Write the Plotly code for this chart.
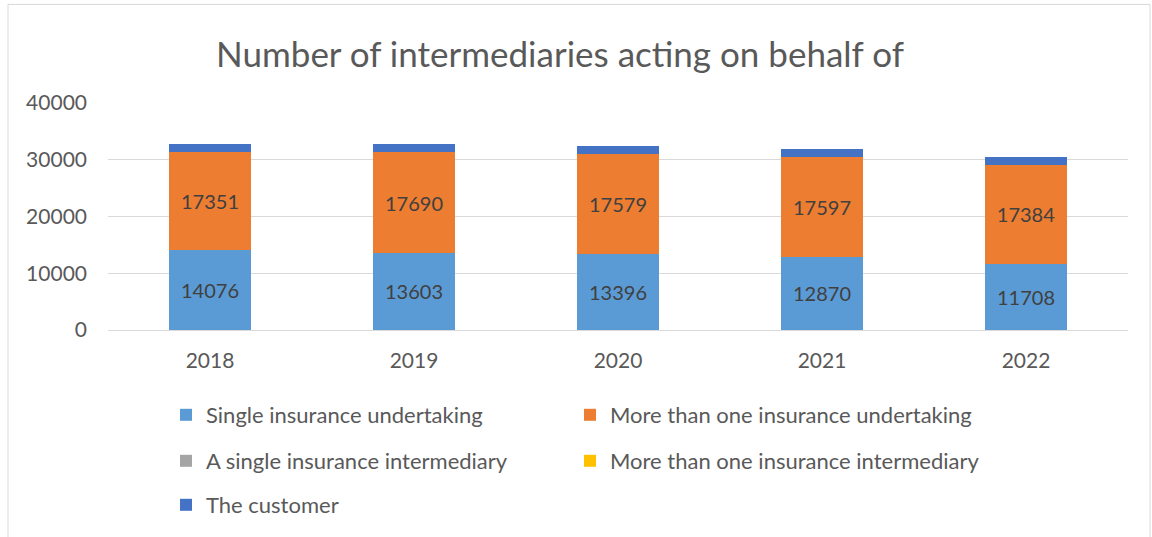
import plotly.graph_objects as go

# ── Data ─────────────────────────────────────────────
years = ["2018", "2019", "2020", "2021", "2022"]
single_undertaking = [14076, 13603, 13396, 12870, 11708]
multi_undertaking = [17351, 17690, 17579, 17597, 17384]
single_intermediary = [0, 0, 0, 0, 0]
multi_intermediary = [0, 0, 0, 0, 0]
customer = [1420, 1400, 1440, 1460, 1440]

# name, values, colour, show labels, legend id, legend pixel (x, y)
series = [
    ("Single insurance undertaking", single_undertaking, "#5B9BD5", True, "legend", (166, 415)),
    ("More than one insurance undertaking", multi_undertaking, "#ED7D31", True, "legend2", (570, 415)),
    ("A single insurance intermediary", single_intermediary, "#A5A5A5", False, "legend3", (166, 461)),
    ("More than one insurance intermediary", multi_intermediary, "#FFC000", False, "legend4", (570, 461)),
    ("The customer", customer, "#4472C4", False, "legend5", (166, 505)),
]

W, H = 1152, 537
L, R, T, B = 108, 24, 103, 206
FONT = "Lato, 'Open Sans', Arial"
TEXT = "#595959"


def px_x(px):
    return (px - L) / (W - L - R)


def px_y(py):
    return (H - B - py) / (H - T - B)


fig = go.Figure()
legends = {}
for name, vals, col, lab, lg, (lx, ly) in series:
    fig.add_trace(go.Bar(
        name=name, x=years, y=vals,
        marker=dict(color=col, line=dict(width=0)),
        text=[str(v) for v in vals] if lab else None,
        texttemplate="%{text}" if lab else None,
        textposition="inside" if lab else "none",
        insidetextanchor="middle",
        textfont=dict(size=20, color="#404040", family=FONT),
        legend=lg, showlegend=True,
    ))
    legends[lg] = dict(orientation="h", xanchor="left", yanchor="middle",
                       x=px_x(lx), y=px_y(ly),
                       font=dict(size=22, color=TEXT, family=FONT),
                       bgcolor="rgba(0,0,0,0)")

fig.update_layout(
    width=W, height=H, showlegend=True,
    barmode="stack", bargap=0.6,
    title=dict(text="Number of intermediaries acting on behalf of",
               x=560 / W, xanchor="center", y=1 - 55 / H, yanchor="middle",
               font=dict(size=35, color=TEXT, family=FONT)),
    xaxis=dict(showgrid=False, showline=False, ticks="", ticklabelstandoff=16,
               tickfont=dict(size=21, color=TEXT, family=FONT)),
    yaxis=dict(range=[0, 40000], dtick=10000, showgrid=True, gridcolor="#D9D9D9",
               gridwidth=1, zeroline=True, zerolinecolor="#D9D9D9", zerolinewidth=1,
               ticks="", ticklabelstandoff=20, tickformat="d",
               tickfont=dict(size=21, color=TEXT, family=FONT)),
    margin=dict(l=L, r=R, t=T, b=B),
    paper_bgcolor="white", plot_bgcolor="white",
    font=dict(family=FONT, color=TEXT),
    shapes=[dict(type="rect", xref="paper", yref="paper",
                 x0=px_x(8), x1=px_x(1150), y0=px_y(560), y1=px_y(4),
                 line=dict(color="#D9D9D9", width=1), layer="below")],
    **legends,
)

fig.write_html("out.html", config={"displayModeBar": False},
               post_script="document.body.style.margin='0';")
